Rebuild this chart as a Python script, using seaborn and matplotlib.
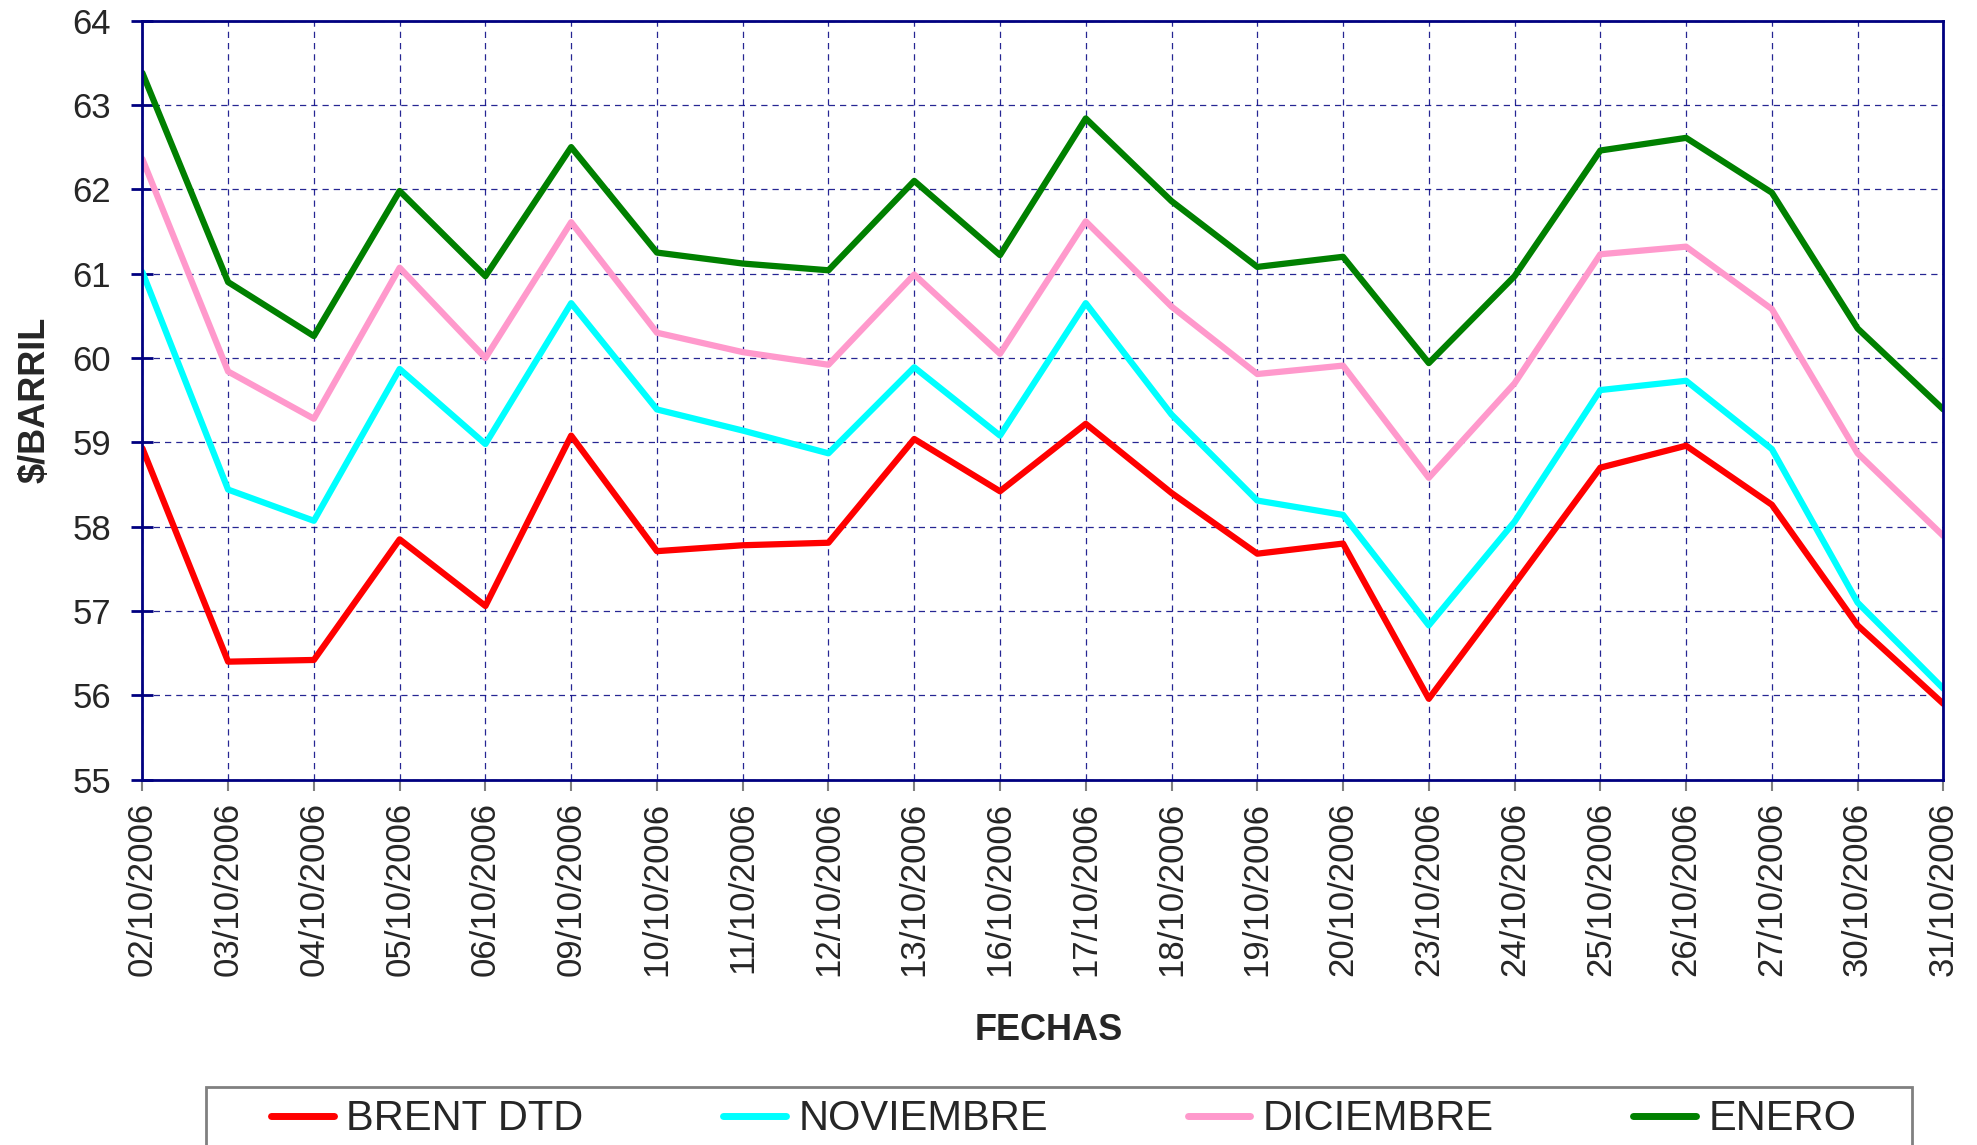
import numpy as np
import pandas as pd
import matplotlib
matplotlib.use("Agg")
import matplotlib.pyplot as plt
from matplotlib.patches import Rectangle
import seaborn as sns

# Dates on the x axis
fechas = ["02/10/2006", "03/10/2006", "04/10/2006", "05/10/2006", "06/10/2006",
          "09/10/2006", "10/10/2006", "11/10/2006", "12/10/2006", "13/10/2006",
          "16/10/2006", "17/10/2006", "18/10/2006", "19/10/2006", "20/10/2006",
          "23/10/2006", "24/10/2006", "25/10/2006", "26/10/2006", "27/10/2006",
          "30/10/2006", "31/10/2006"]

# Prices ($/barril)
brent = [58.93, 56.40, 56.42, 57.85, 57.06, 59.08, 57.71, 57.78, 57.81, 59.04, 58.42,
         59.22, 58.40, 57.68, 57.80, 55.96, 57.32, 58.70, 58.96, 58.26, 56.83, 55.90]
noviembre = [61.02, 58.44, 58.07, 59.87, 58.98, 60.65, 59.39, 59.14, 58.87, 59.89, 59.08,
             60.65, 59.33, 58.31, 58.14, 56.83, 58.06, 59.62, 59.73, 58.92, 57.10, 56.08]
diciembre = [62.36, 59.84, 59.28, 61.07, 60.00, 61.61, 60.30, 60.07, 59.92, 60.99, 60.05,
             61.62, 60.61, 59.81, 59.91, 58.58, 59.70, 61.23, 61.32, 60.58, 58.87, 57.89]
enero = [63.38, 60.90, 60.26, 61.98, 60.97, 62.50, 61.25, 61.12, 61.04, 62.10, 61.22,
         62.84, 61.86, 61.08, 61.20, 59.94, 60.97, 62.46, 62.61, 61.96, 60.35, 59.39]

series = ["BRENT DTD", "NOVIEMBRE", "DICIEMBRE", "ENERO"]
colores = ["#FF0000", "#00FFFF", "#FF99CC", "#008000"]

# Long-format table for seaborn
df = pd.DataFrame({
    "fecha": fechas * 4,
    "precio": brent + noviembre + diciembre + enero,
    "serie": np.repeat(series, len(fechas)),
})

sns.set_style("white")
plt.rcParams["font.family"] = ["Liberation Sans", "DejaVu Sans"]

navy = "#000080"

fig, ax = plt.subplots(figsize=(19.77, 11.45), dpi=100)
fig.subplots_adjust(left=0.072, right=0.983, top=0.982, bottom=0.319)

sns.lineplot(data=df, x="fecha", y="precio", hue="serie", hue_order=series,
             palette=colores, linewidth=4.5, sort=False, ax=ax)

ax.set_xlim(0, len(fechas) - 1)
ax.set_ylim(55, 64)
ax.set_yticks(range(55, 65))
ax.set_xticks(range(len(fechas)))
ax.set_xticklabels(fechas, rotation=90, fontsize=25)
ax.tick_params(axis="y", left=True, labelsize=25, direction="inout", length=16,
               width=2, color=navy, pad=14.5)
ax.tick_params(axis="x", bottom=True, direction="out", length=8, width=1.5,
               color="gray", pad=8)

# Dashed grid
ax.grid(True, color=navy, linestyle=(0, (5, 4)), linewidth=0.9, alpha=0.85)

for side in ["left", "right", "top", "bottom"]:
    ax.spines[side].set_visible(True)
    ax.spines[side].set_color(navy)
    ax.spines[side].set_linewidth(2)

ax.set_ylabel("$/BARRIL", fontsize=26, fontweight="bold")
ax.yaxis.set_label_coords(-0.05, 0.5)
ax.set_xlabel("FECHAS", fontsize=26, fontweight="bold")
ax.xaxis.set_label_coords(0.503, -0.307)

# Legend at the bottom (box partly cut off by the figure edge)
handles, labels = ax.get_legend_handles_labels()
ax.get_legend().remove()
leg = fig.legend(handles, labels, loc="upper left", ncol=4,
                 bbox_to_anchor=(0.131, 0.0507), fontsize=30,
                 handlelength=1.5, handletextpad=0.3, columnspacing=3.35,
                 borderpad=0.3, borderaxespad=0, frameon=False)
for line in leg.get_lines():
    line.set_linewidth(5)

# Legend frame drawn separately so it spans the same width as the original
fig.patches.append(Rectangle((0.104, -0.05), 0.863, 0.1007, transform=fig.transFigure,
                             fill=False, edgecolor="gray", linewidth=2))

plt.savefig("out.png", dpi=100)
plt.close()
